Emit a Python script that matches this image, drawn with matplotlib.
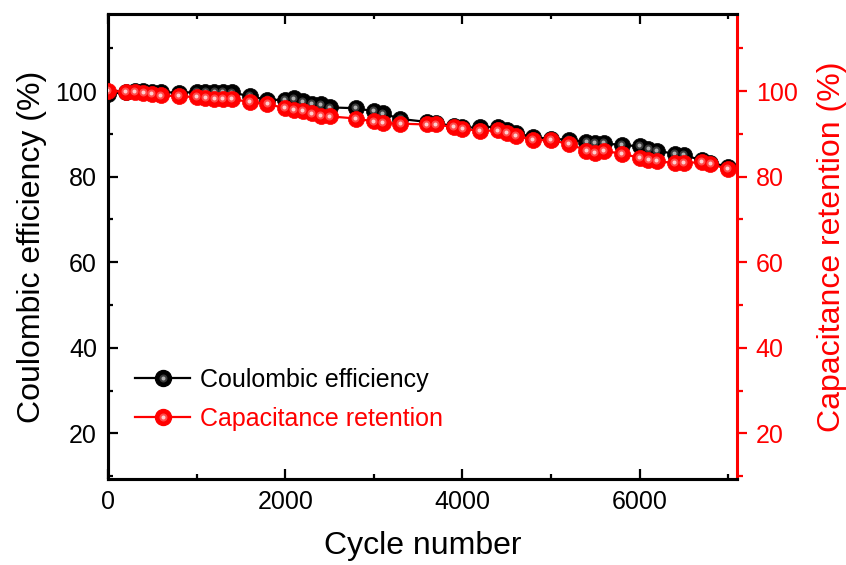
import matplotlib
matplotlib.use("Agg")
import matplotlib.pyplot as plt
from matplotlib.lines import Line2D
from matplotlib.legend_handler import HandlerTuple
from matplotlib.ticker import MultipleLocator
import matplotlib.transforms as mtransforms

plt.rcParams['font.family'] = ['Liberation Sans', 'DejaVu Sans']

cycles = [0, 200, 300, 400, 500, 600, 800, 1000, 1100, 1200, 1300, 1400, 1600,
          1800, 2000, 2100, 2200, 2300, 2400, 2500, 2800, 3000, 3100, 3300,
          3600, 3700, 3900, 4000, 4200, 4400, 4500, 4600, 4800, 5000, 5200,
          5400, 5500, 5600, 5800, 6000, 6100, 6200, 6400, 6500, 6700, 6800, 7000]
coulombic = [99.3, 99.8, 100.0, 100.0, 99.9, 99.8, 99.6, 99.8, 99.8, 99.8, 99.8, 99.7, 98.8,
             98.0, 97.9, 98.3, 97.6, 97.1, 96.9, 96.2, 96.0, 95.3, 94.8, 93.5,
             92.8, 92.6, 91.8, 91.5, 91.5, 91.7, 90.9, 90.3, 89.2, 88.9, 88.6,
             88.2, 87.9, 87.8, 87.4, 87.1, 86.4, 86.1, 85.3, 85.0, 83.9, 83.3, 82.3]
retention = [100.0, 99.9, 99.8, 99.6, 99.4, 99.0, 98.8, 98.6, 98.4, 98.2, 98.1, 98.1, 97.5,
             97.0, 96.0, 95.7, 95.3, 94.8, 94.3, 94.1, 93.6, 92.9, 92.5, 92.4,
             92.2, 92.2, 91.6, 91.2, 90.7, 90.8, 90.2, 89.6, 88.6, 88.5, 87.7,
             86.1, 85.6, 86.0, 85.4, 84.4, 84.0, 83.6, 83.2, 83.2, 83.4, 82.9, 81.8]

fig = plt.figure(figsize=(8.46, 5.65), dpi=100)
ax = fig.add_axes([0.1277, 0.152, 0.7435, 0.823])
ax2 = ax.twinx()

XLIM = (0, 7100)
YLIM = (9.3, 118)
MS = 11.5

BLACK = ('#000000', '#3a3a3a', '#b0b0b0', 'black')
RED = ('#ff0000', '#ff4a4a', '#ffd0d0', '#ff0000')


def sphere(a, x, y, style):
    base, mid, hi, lc = style
    a.plot(x, y, '-', color=lc, lw=1.6, zorder=2)
    a.plot(x, y, 'o', ls='none', ms=MS, mfc=base, mec=base, mew=0.5, zorder=3)
    t1 = mtransforms.offset_copy(a.transData, fig=fig, x=-0.6, y=0.6, units='points')
    a.plot(x, y, 'o', ls='none', ms=MS * 0.5, mfc=mid, mec='none', zorder=4, transform=t1)
    a.plot(x, y, 'o', ls='none', ms=MS * 0.25, mfc=hi, mec='none', zorder=5, transform=t1)


sphere(ax, cycles, coulombic, BLACK)
sphere(ax2, cycles, retention, RED)

for a in (ax, ax2):
    a.set_xlim(*XLIM)
    a.set_ylim(*YLIM)

ax.xaxis.set_major_locator(MultipleLocator(2000))
ax.xaxis.set_minor_locator(MultipleLocator(1000))
ax.yaxis.set_major_locator(MultipleLocator(20))
ax.yaxis.set_minor_locator(MultipleLocator(10))
ax2.yaxis.set_major_locator(MultipleLocator(20))
ax2.yaxis.set_minor_locator(MultipleLocator(10))

ax.tick_params(axis='both', which='both', direction='in', top=True, right=False,
               labelsize=18, width=1.6, pad=8)
ax.tick_params(which='major', length=7)
ax.tick_params(which='minor', length=3.8)
ax2.tick_params(axis='y', which='both', direction='out', colors='#ff0000',
                labelsize=18, width=1.6, pad=6)
ax2.tick_params(axis='y', which='major', length=7.5)
ax2.tick_params(axis='y', which='minor', length=4)

for s in ('left', 'bottom', 'top'):
    ax.spines[s].set_linewidth(2.2)
    ax2.spines[s].set_linewidth(2.2)
ax.spines['right'].set_visible(False)
ax2.spines['right'].set_color('#ff0000')
ax2.spines['right'].set_linewidth(2.2)

ax.set_xlabel('Cycle number', fontsize=23, labelpad=12)
ax.set_ylabel('Coulombic efficiency (%)', fontsize=23, labelpad=6)
ax2.set_ylabel('Capacitance retention (%)', fontsize=23, color='#ff0000', labelpad=14)


def legend_handle(style):
    base, mid, hi, lc = style
    return (Line2D([], [], color=lc, lw=1.6, marker='o', ms=MS, mfc=base, mec=base),
            Line2D([], [], ls='none', marker='o', ms=MS * 0.5, mfc=mid, mec='none'),
            Line2D([], [], ls='none', marker='o', ms=MS * 0.25, mfc=hi, mec='none'))


leg = ax2.legend([legend_handle(BLACK), legend_handle(RED)],
                 ['Coulombic efficiency', 'Capacitance retention'],
                 handler_map={tuple: HandlerTuple(ndivide=1, pad=0)},
                 loc='upper left', bbox_to_anchor=(0.043, 0.24), frameon=False,
                 fontsize=18, handlelength=2.2, handletextpad=0.4, labelspacing=0.6,
                 numpoints=1, borderpad=0, borderaxespad=0)
for t, c in zip(leg.get_texts(), ['black', '#ff0000']):
    t.set_color(c)

fig.savefig('out.png', dpi=100)
